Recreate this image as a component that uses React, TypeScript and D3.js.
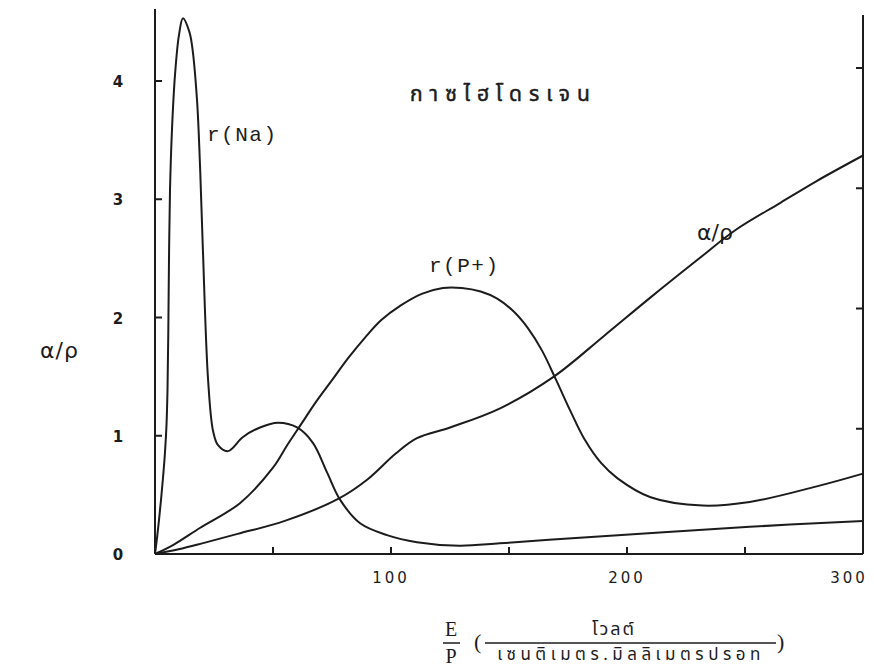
import React from "react";
import * as d3 from "d3";

// E/P values (x) and curve values (y)
const naE = [0, 0.85, 1.69, 2.54, 3.39, 4.24, 4.87, 5.3, 5.64, 5.93, 6.36, 7.2, 8.47, 10.17, 11.86, 14.5, 15.7, 17.8, 19.1, 20.3, 22.5, 24.6, 26.7, 30.9, 37.3, 44.5, 52.1, 60.2, 66.9, 72.9, 78.4, 86.9, 98.3, 111, 129, 146, 167, 252, 300];
const naV = [0, 0.135, 0.287, 0.456, 0.643, 0.863, 1.09, 1.39, 1.89, 2.49, 3.08, 3.59, 4.05, 4.39, 4.53, 4.42, 4.3, 3.84, 3.27, 2.57, 1.47, 1.04, 0.92, 0.87, 0.99, 1.07, 1.11, 1.07, 0.94, 0.69, 0.46, 0.26, 0.16, 0.1, 0.07, 0.09, 0.12, 0.23, 0.28];

const ppE = [0, 8, 19, 36, 50, 56, 62, 68, 75, 82, 89, 96, 104, 113, 122, 130, 138, 145, 152, 158, 164, 170, 176, 182, 189, 196, 210, 232, 252, 280, 300];
const ppV = [0, 0.08, 0.22, 0.43, 0.73, 0.92, 1.1, 1.28, 1.47, 1.66, 1.83, 1.98, 2.1, 2.2, 2.25, 2.25, 2.22, 2.16, 2.05, 1.91, 1.72, 1.47, 1.21, 0.97, 0.77, 0.64, 0.48, 0.41, 0.44, 0.57, 0.68];

const arE = [0, 10, 20, 35, 55, 78, 90, 102, 111, 125, 146, 169, 190, 210, 230, 246, 265, 280, 300];
const arV = [0, 0.04, 0.09, 0.17, 0.28, 0.47, 0.63, 0.85, 0.98, 1.07, 1.23, 1.5, 1.84, 2.17, 2.49, 2.74, 2.97, 3.15, 3.37];

const xTicks = [50, 100, 150, 200, 250];
const xTickLabels = [100, 200, 300];
const yTicks = [1, 2, 3, 4];
const yTickLabels = [0, 1, 2, 3, 4];

const title = "กาซไฮโดรเจน";
const naLabel = "r(Na)";
const ppLabel = "r(P+)";
const arLabel = "α/ρ";
const yLabel = "α/ρ";
const numerator = "โวลต์";
const denominator = "เซนติเมตร.มิลลิเมตรปรอท";

export default function App() {
  const x = d3.scaleLinear().domain([0, 300]).range([155, 863]);
  const y = d3.scaleLinear().domain([0, 4]).range([554, 81]);
  const yR = d3.scaleLinear().domain([0, 4]).range([549, 68]);

  const line = d3
    .line<[number, number]>()
    .x((d) => x(d[0]))
    .y((d) => y(d[1]))
    .curve(d3.curveCatmullRom.alpha(0.5));

  const series = [
    naE.map((e, i) => [e, naV[i]] as [number, number]),
    ppE.map((e, i) => [e, ppV[i]] as [number, number]),
    arE.map((e, i) => [e, arV[i]] as [number, number]),
  ];

  const ink = "#1c1c1c";
  const tickFont = "'DejaVu Sans', sans-serif";
  const monoFont = "'Liberation Mono', monospace";
  const thaiFont = "'Noto Sans Thai', 'Noto Sans', 'DejaVu Sans', sans-serif";
  const serif = "'Liberation Serif', serif";

  return (
    <div style={{ position: "fixed", left: 0, top: 0 }}>
      <svg width={874} height={669} style={{ display: "block", background: "#fff" }}>
        {/* axes */}
        <line x1={x(0)} x2={x(0)} y1={9} y2={y(0)} stroke={ink} strokeWidth={2} />
        <line x1={x(300)} x2={x(300)} y1={15} y2={y(0)} stroke={ink} strokeWidth={2} />
        <line x1={x(0)} x2={x(300)} y1={y(0)} y2={y(0)} stroke={ink} strokeWidth={2} />
        {xTicks.map((t) => (
          <line key={"xt" + t} x1={x(t)} x2={x(t)} y1={y(0)} y2={y(0) - 7} stroke={ink} strokeWidth={2} />
        ))}
        {yTicks.map((t) => (
          <line key={"yt" + t} x1={x(0)} x2={x(0) + 7} y1={y(t)} y2={y(t)} stroke={ink} strokeWidth={2} />
        ))}
        {yTicks.map((t) => (
          <line key={"yr" + t} x1={x(300)} x2={x(300) - 7} y1={yR(t)} y2={yR(t)} stroke={ink} strokeWidth={2} />
        ))}
        {xTickLabels.map((t) => (
          <text key={"xl" + t} x={x(t) - (t === 300 ? 14 : 0)} y={583} textAnchor="middle" fontFamily={tickFont} fontSize={15} letterSpacing={3} fill={ink}>
            {t}
          </text>
        ))}
        {yTickLabels.map((t) => (
          <text key={"yl" + t} x={118} y={y(t) + 6} textAnchor="middle" fontFamily={tickFont} fontSize={15} fontWeight="bold" fill={ink}>
            {t}
          </text>
        ))}
        {/* curves */}
        {series.map((s, i) => (
          <path key={"s" + i} d={line(s) || ""} fill="none" stroke={ink} strokeWidth={2} strokeLinejoin="round" />
        ))}
        {/* labels */}
        <text x={207} y={141} fontFamily={monoFont} fontSize={21} letterSpacing={1.5} fill={ink}>{naLabel}</text>
        <text x={429} y={272} fontFamily={monoFont} fontSize={21} letterSpacing={1.5} fill={ink}>{ppLabel}</text>
        <text x={697} y={240} fontFamily={tickFont} fontSize={22} fill={ink}>{arLabel}</text>
        <text x={40} y={358} fontFamily={tickFont} fontSize={22} letterSpacing={1} fill={ink}>{yLabel}</text>
        <text x={410} y={101} fontFamily={thaiFont} fontSize={21} letterSpacing={7} stroke={ink} strokeWidth={0.5} fill={ink}>{title}</text>
        {/* x axis title */}
        <text x={451} y={636} textAnchor="middle" fontFamily={serif} fontSize={20} fill={ink}>E</text>
        <line x1={443} x2={460} y1={643} y2={643} stroke={ink} strokeWidth={1.5} />
        <text x={451} y={663} textAnchor="middle" fontFamily={serif} fontSize={20} fill={ink}>P</text>
        <text x={474} y={649} fontFamily={serif} fontSize={22} fill={ink}>(</text>
        <text x={614} y={635} textAnchor="middle" fontFamily={thaiFont} fontSize={18} letterSpacing={2} fill={ink}>{numerator}</text>
        <line x1={485} x2={776} y1={643} y2={643} stroke={ink} strokeWidth={1.5} />
        <text x={631} y={660} textAnchor="middle" fontFamily={thaiFont} fontSize={17} letterSpacing={4.5} fill={ink}>{denominator}</text>
        <text x={777} y={649} fontFamily={serif} fontSize={22} fill={ink}>)</text>
      </svg>
    </div>
  );
}
